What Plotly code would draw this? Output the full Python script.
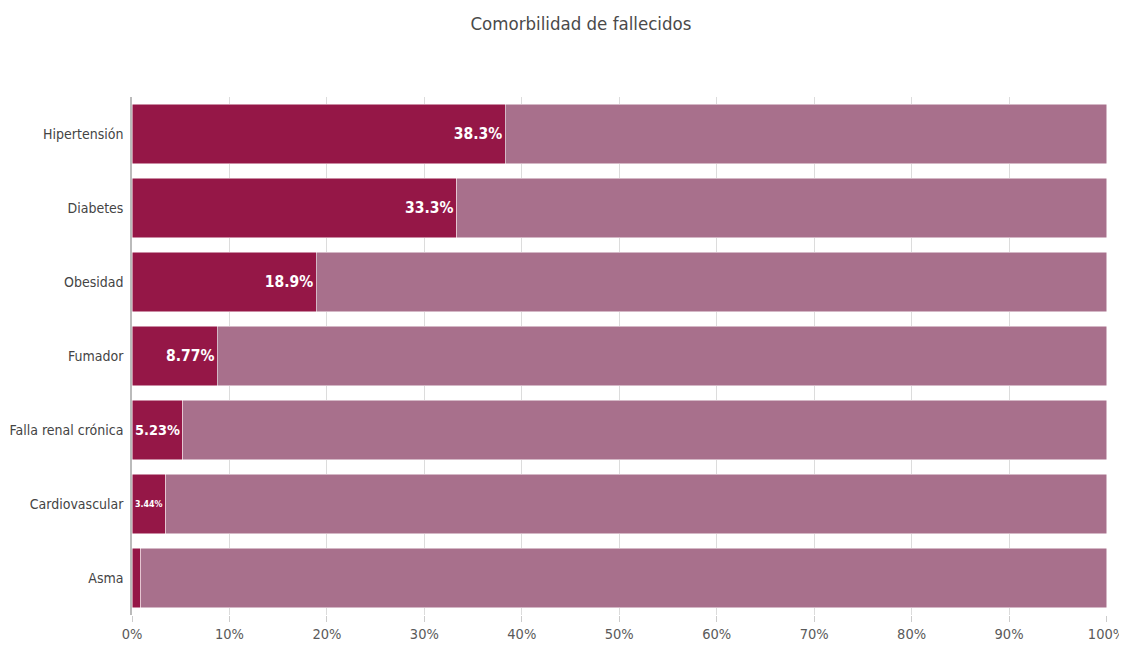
import plotly.graph_objects as go

categories = ["Hipertensión", "Diabetes", "Obesidad", "Fumador", "Falla renal crónica", "Cardiovascular", "Asma"]
values = [38.3, 33.3, 18.9, 8.77, 5.23, 3.44, 0.9]
labels = ["38.3%", "33.3%", "18.9%", "8.77%", "5.23%", "3.44%", ""]
tick_vals = [0, 10, 20, 30, 40, 50, 60, 70, 80, 90, 100]
tick_text = [f"{t}%" for t in tick_vals]

rest = [100 - v for v in values]
FONT = "DejaVu Sans Condensed, Liberation Sans Narrow, sans-serif"

fig = go.Figure()
fig.add_trace(go.Bar(
    y=categories, x=values, orientation="h",
    marker=dict(color="#951747", line=dict(color="white", width=0.5)),
    text=labels, textposition="inside", insidetextanchor="end", textangle=0,
    textfont=dict(color="white", size=15.5, family=FONT, weight="bold"),
    hoverinfo="x+y", showlegend=False,
))
fig.add_trace(go.Bar(
    y=categories, x=rest, orientation="h",
    marker=dict(color="#a8708c", line=dict(color="white", width=0.5)),
    hoverinfo="skip", showlegend=False,
))
fig.update_layout(
    barmode="stack", bargap=0.2,
    width=1119, height=640,
    margin=dict(l=124, r=20, t=89, b=33),
    paper_bgcolor="white", plot_bgcolor="white",
    title=dict(text="Comorbilidad de fallecidos", x=0.512, xanchor="center", y=0.975, yanchor="middle",
               font=dict(family=FONT, size=18.5, color="#4a4a4a")),
    font=dict(family=FONT, color="#555555"),
    xaxis=dict(range=[0, 100.05], tickvals=tick_vals, ticktext=tick_text, showgrid=True,
               gridcolor="#dcdcdc", gridwidth=1, zeroline=False, ticks="outside", ticklen=6,
               tickcolor="#cccccc", tickfont=dict(size=14.5, color="#5a5a5a"),
               ticklabeloverflow="allow", automargin=False, fixedrange=True),
    yaxis=dict(autorange="reversed", showline=True, linecolor="#bbbbbb", linewidth=1.5,
               ticks="", tickfont=dict(size=14, color="#444444"), ticklabelstandoff=4,
               automargin=False, fixedrange=True),
)
fig.write_html("out.html")
